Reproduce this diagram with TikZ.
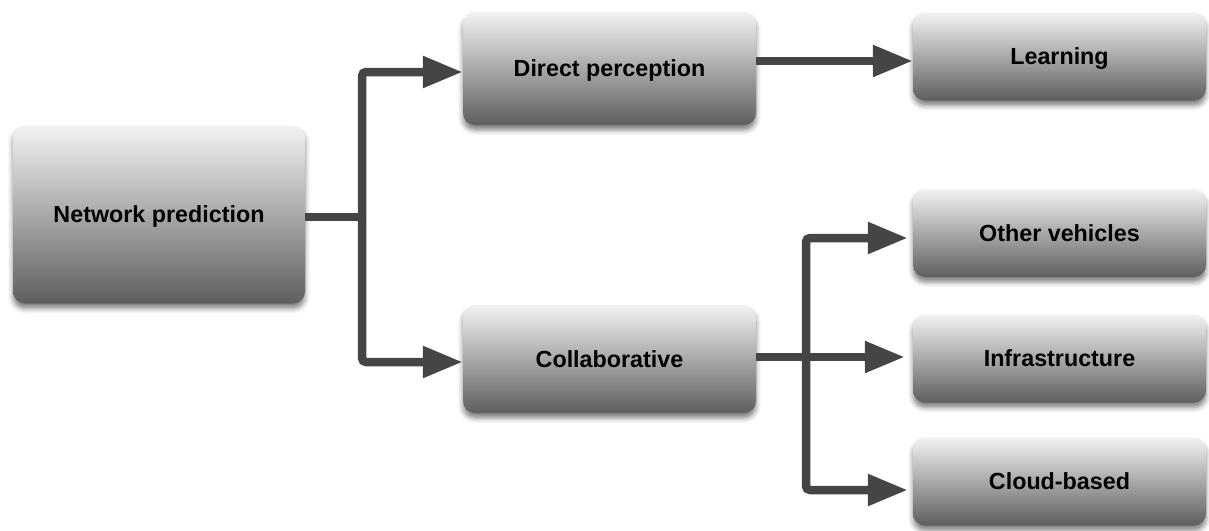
\documentclass[tikz,border=0pt]{standalone}
\usepackage{fontspec}
\setmainfont{Liberation Sans}
\usetikzlibrary{arrows.meta,shadows.blur,calc}
\begin{document}
\begin{tikzpicture}[x=1pt,y=-1pt,
  box/.style={rounded corners=12pt, top color=black!5, bottom color=black!63,
    blur shadow={shadow xshift=0pt, shadow yshift=-5pt, shadow blur radius=5pt, shadow opacity=50},
    font=\fontsize{23.3}{28}\selectfont\bfseries, text=black, inner sep=0pt,
    text height=16pt, text depth=0pt},
  conn/.style={draw=black!73, line width=8.5pt, rounded corners=4pt},
  tip/.style={-{Triangle[length=40pt,width=30pt]}}]
\useasboundingbox (0,0) rectangle (1209,530);
% nodes
\node[box, minimum width=292pt, minimum height=178pt] (np) at (159,214.5) {Network prediction};
\node[box, minimum width=293pt, minimum height=113pt] (dp) at (609.5,68.5) {Direct perception};
\node[box, minimum width=293pt, minimum height=88pt] (learn) at (1059.5,56.5) {Learning};
\node[box, minimum width=293pt, minimum height=108pt] (co) at (609.5,359) {Collaborative};
\node[box, minimum width=293pt, minimum height=88pt] (ov) at (1059.5,233) {Other vehicles};
\node[box, minimum width=293pt, minimum height=88pt] (inf) at (1059.5,358.5) {Infrastructure};
\node[box, minimum width=293pt, minimum height=88pt] (cl) at (1059.5,481.5) {Cloud-based};
% helper coordinates
\coordinate (y1) at (0,72);
\coordinate (y2) at (0,362);
\coordinate (ynp) at (0,217);
\coordinate (yl) at (0,61);
\coordinate (yov) at (0,238);
\coordinate (yinf) at (0,357);
\coordinate (ycl) at (0,490);
\coordinate (vx1) at (362,0);
\coordinate (vx2) at (806,0);
% connectors
\draw[conn] (np.east |- ynp) -- (vx1 |- ynp);
\draw[conn, tip] (vx1 |- ynp) -- (vx1 |- y1) -- (dp.west |- y1);
\draw[conn, tip] (vx1 |- ynp) -- (vx1 |- y2) -- (co.west |- y2);
\draw[conn, tip] (dp.east |- yl) -- (learn.west |- yl);
\draw[conn, tip, shorten >=8pt] (co.east |- yinf) -- (inf.west |- yinf);
\draw[conn, tip, shorten >=5pt] (vx2 |- yinf) -- (vx2 |- yov) -- (ov.west |- yov);
\draw[conn, tip, shorten >=5pt] (vx2 |- yinf) -- (vx2 |- ycl) -- (cl.west |- ycl);
\end{tikzpicture}
\end{document}
